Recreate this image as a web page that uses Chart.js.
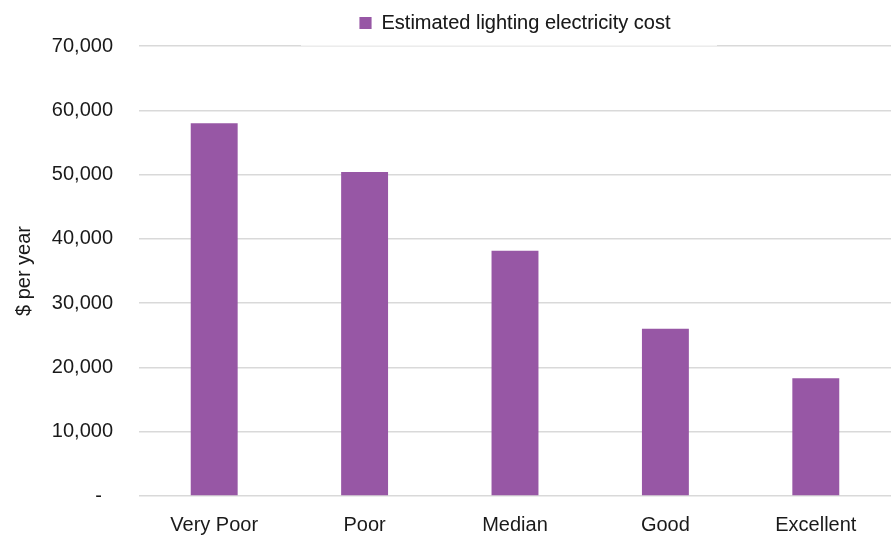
<!DOCTYPE html>
<html>
<head>
<meta charset="utf-8">
<script src="https://cdn.jsdelivr.net/npm/chart.js@4/dist/chart.umd.min.js"></script>
<style>
  html, body { margin: 0; padding: 0; background: #fff; }
  #wrap { width: 891px; height: 538px; }
</style>
</head>
<body>
<div id="wrap"><canvas id="costChart"></canvas></div>
<script>
// Chart data
const categories = ['Very Poor', 'Poor', 'Median', 'Good', 'Excellent'];
const lightingCost = [58000, 50400, 38150, 26000, 18300];
const yTicks = [0, 10000, 20000, 30000, 40000, 50000, 60000, 70000];
const seriesName = 'Estimated lighting electricity cost';
const yTitle = '$ per year';

const fontFamily = '"Liberation Sans", Arial, sans-serif';
const textColor = '#1a1a1a';
const gridColor = '#d9d9d9';
const barColor = '#9757a5';

Chart.defaults.font.family = fontFamily;
Chart.defaults.color = textColor;

// Center the legend over the plot area and give it a soft white backing like Excel
const legendOverPlot = {
    id: 'legendOverPlot',
    beforeLayout(chart) {
        const legend = chart.legend;
        if (legend && !legend._extraGap) {
            const fit = legend.fit;
            legend.fit = function () {
                fit.call(this);
                this.height += 3;
            };
            legend._extraGap = true;
        }
    },
    afterLayout(chart) {
        const area = chart.chartArea;
        chart.legend.left = area.left;
        chart.legend.right = area.right;
    },
    beforeDatasetsDraw(chart) {
        const area = chart.chartArea;
        const mid = (area.left + area.right) / 2 - 6;
        const c = chart.ctx;
        c.save();
        c.fillStyle = 'rgba(255,255,255,0.7)';
        c.fillRect(mid - 208, 0, 416, area.top);
        c.restore();
        chart.legend.draw();
    }
};

const ctx = document.getElementById('costChart').getContext('2d');
new Chart(ctx, {
    type: 'bar',
    data: {
        labels: categories,
        datasets: [{
            label: seriesName,
            data: lightingCost,
            backgroundColor: barColor,
            borderWidth: 0,
            barPercentage: 1,
            categoryPercentage: 0.312
        }]
    },
    options: {
        responsive: true,
        maintainAspectRatio: false,
        animation: false,
        layout: { padding: { top: 0, right: 0, bottom: 0, left: 0 } },
        plugins: {
            legend: {
                position: 'top',
                labels: {
                    boxWidth: 12,
                    boxHeight: 12,
                    padding: 13,
                    color: textColor,
                    font: { size: 20 }
                }
            },
            tooltip: { enabled: false }
        },
        scales: {
            x: {
                grid: { display: false },
                border: { display: false },
                ticks: { font: { size: 20 }, color: textColor, padding: 9 },
                afterFit: scale => { scale.height = 42; }
            },
            y: {
                min: 0,
                max: 70000,
                afterBuildTicks: scale => { scale.ticks = yTicks.map(v => ({ value: v })); },
                grid: { color: gridColor, lineWidth: 1.5, drawTicks: false },
                border: { display: false },
                ticks: {
                    font: { size: 20 },
                    color: textColor,
                    padding: 26,
                    callback: v => v === 0 ? '-  ' : v.toLocaleString('en-US')
                },
                title: {
                    display: true,
                    text: yTitle,
                    font: { size: 20 },
                    color: textColor,
                    padding: { top: 12, bottom: 0 }
                },
                afterFit: scale => { scale.width = 139; }
            }
        }
    },
    plugins: [legendOverPlot]
});
</script>
</body>
</html>
